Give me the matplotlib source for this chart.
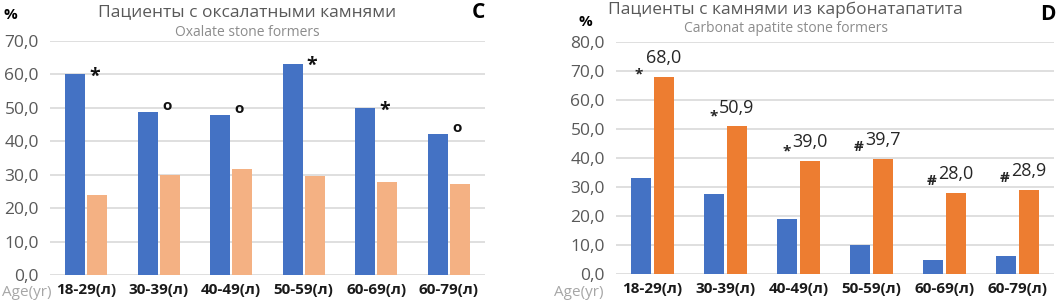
import matplotlib.pyplot as plt
import numpy as np
from matplotlib.ticker import FuncFormatter

plt.rcParams['font.family'] = ['Open Sans', 'DejaVu Sans']

age_groups = ["18-29(л)", "30-39(л)", "40-49(л)", "50-59(л)", "60-69(л)", "60-79(л)"]

# panel C: oxalate stone formers
oxalate_blue = [60.0, 48.8, 47.9, 63.2, 50.0, 42.2]
oxalate_orange = [24.0, 30.0, 31.7, 29.5, 27.9, 27.2]
oxalate_marks = ["*", "o", "o", "*", "*", "o"]

# panel D: carbonate apatite stone formers
apatite_blue = [33.1, 27.6, 19.0, 9.9, 4.9, 6.1]
apatite_orange = [68.0, 50.9, 39.0, 39.7, 28.0, 28.9]
apatite_marks = ["*", "*", "*", "#", "#", "#"]

blue = "#4472C4"
light_orange = "#F4B183"
dark_orange = "#ED7D31"
grid_col = "#D9D9D9"

W, H = 1056, 305
fig = plt.figure(figsize=(W / 100, H / 100), dpi=100)


def px_axes(x0, x1, y_top, y_bot):
    return fig.add_axes([x0 / W, 1 - y_bot / H, (x1 - x0) / W, (y_bot - y_top) / H])


def style_axes(ax, ymax, labelsize):
    x = np.arange(len(age_groups))
    ax.set_xlim(-0.5, len(age_groups) - 0.5)
    ax.set_ylim(0, ymax)
    ax.set_yticks(np.arange(0, ymax + 1, 10))
    ax.yaxis.set_major_formatter(FuncFormatter(lambda v, p: f"{v:.1f}".replace(".", ",")))
    ax.set_xticks(x)
    ax.set_xticklabels(age_groups, fontweight="bold", fontsize=11, color="#1a1a1a")
    ax.tick_params(axis="both", length=0)
    ax.tick_params(axis="y", labelsize=labelsize, labelcolor="#595959", pad=8)
    ax.tick_params(axis="x", pad=6)
    for s in ax.spines.values():
        s.set_visible(False)
    ax.grid(axis="y", color=grid_col, linewidth=1.2)
    ax.set_axisbelow(True)


width = 0.276
off = 0.152
x = np.arange(len(age_groups))

# ---- panel C
ax1 = px_axes(50, 485, 41, 275)
style_axes(ax1, 70, 12.5)
ax1.bar(x - off, oxalate_blue, width, color=blue)
ax1.bar(x + off, oxalate_orange, width, color=light_orange)
for xi, v, m in zip(x, oxalate_blue, oxalate_marks):
    if m == "*":
        ax1.annotate(m, (xi - off + width / 2, v), xytext=(3, -9), textcoords="offset points",
                     ha="left", va="bottom", fontsize=14, fontweight="bold", color="#111111")
    else:
        ax1.annotate(m, (xi - off + width / 2, v), xytext=(3, -1), textcoords="offset points",
                     ha="left", va="bottom", fontsize=11, fontweight="bold", color="#111111")

fig.text(247 / W, 1 - 12 / H, "Пациенты с оксалатными камнями", ha="center", va="center",
         fontsize=12.5, color="#595959")
fig.text(247 / W, 1 - 32 / H, "Oxalate stone formers", ha="center", va="center",
         fontsize=10, color="#8C8C8C")
fig.text(478 / W, 1 - 12 / H, "C", ha="center", va="center", fontsize=15, fontweight="bold")
fig.text(10 / W, 1 - 15 / H, "%", ha="center", va="center", fontsize=11, fontweight="bold")
fig.text(27 / W, 1 - 293 / H, "Age(yr)", ha="center", va="center", fontsize=11, color="#A6A6A6")

# ---- panel D
ax2 = px_axes(616, 1054, 42, 274)
style_axes(ax2, 80, 12.5)
ax2.bar(x - off, apatite_blue, width, color=blue)
ax2.bar(x + off, apatite_orange, width, color=dark_orange)
mark_offsets = [(-3, -12), (-1, -4), (-1, -4), (-1, -2), (-1, -2), (-1, -2)]
for xi, v, m, (dx, dy) in zip(x, apatite_orange, apatite_marks, mark_offsets):
    t = ax2.annotate(f"{v:.1f}".replace(".", ","), (xi + off, v), xytext=(0, 10),
                     textcoords="offset points", ha="center", va="baseline",
                     fontsize=13, color="#262626")
    ax2.annotate(m, xy=(0, 0), xycoords=t, xytext=(dx, dy), textcoords="offset pixels",
                 ha="right", va="baseline", fontsize=11, fontweight="bold", color="#262626")

fig.text(785 / W, 1 - 10 / H, "Пациенты с камнями из карбонатапатита", ha="center", va="center",
         fontsize=12.5, color="#595959")
fig.text(786 / W, 1 - 29 / H, "Carbonat apatite stone formers", ha="center", va="center",
         fontsize=10, color="#8C8C8C")
fig.text(1048 / W, 1 - 15 / H, "D", ha="center", va="center", fontsize=15, fontweight="bold")
fig.text(585 / W, 1 - 22 / H, "%", ha="center", va="center", fontsize=11, fontweight="bold")
fig.text(579 / W, 1 - 293 / H, "Age(yr)", ha="center", va="center", fontsize=11, color="#A6A6A6")

fig.savefig("out.png", dpi=100)
